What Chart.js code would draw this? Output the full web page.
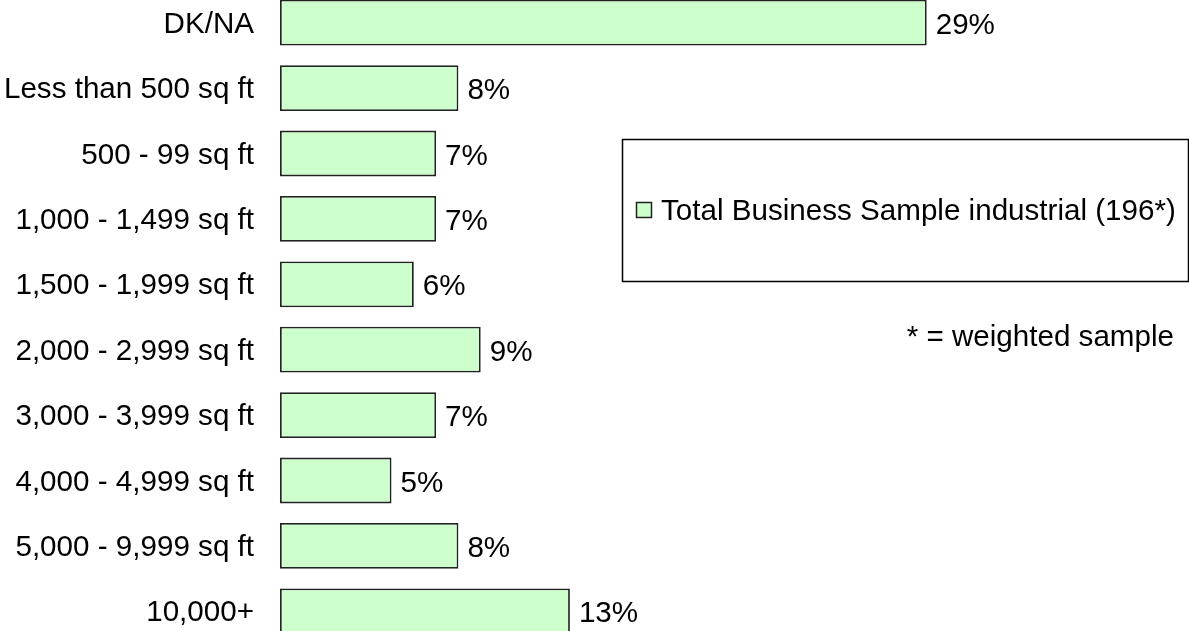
<!DOCTYPE html>
<html>
<head>
<meta charset="utf-8">
<script src="https://cdn.jsdelivr.net/npm/chart.js@4"></script>
<style>
  html, body { margin: 0; padding: 0; background: #fff; overflow: hidden; }
  #wrap { position: absolute; left: 0; top: -10px; width: 1189px; height: 654px; }
</style>
</head>
<body>
<div id="wrap"><canvas id="myChart"></canvas></div>
<script>
const categories = [
  'DK/NA',
  'Less than 500 sq ft',
  '500 - 99 sq ft',
  '1,000 - 1,499 sq ft',
  '1,500 - 1,999 sq ft',
  '2,000 - 2,999 sq ft',
  '3,000 - 3,999 sq ft',
  '4,000 - 4,999 sq ft',
  '5,000 - 9,999 sq ft',
  '10,000+'
];
const shares = [29, 8, 7, 7, 6, 9, 7, 5, 8, 13];
const seriesName = 'Total Business Sample industrial (196*)';
const noteText = '* = weighted sample';

const fontFamily = "'Liberation Sans', Arial, sans-serif";
const fontSize = 29.6;
Chart.defaults.font.family = fontFamily;
Chart.defaults.color = '#000';

// value labels to the right of each bar
const valueLabels = {
  id: 'valueLabels',
  afterDatasetsDraw(chart) {
    const ctx = chart.ctx;
    const meta = chart.getDatasetMeta(0);
    ctx.save();
    ctx.font = fontSize + 'px ' + fontFamily;
    ctx.fillStyle = '#000';
    ctx.textAlign = 'left';
    ctx.textBaseline = 'middle';
    meta.data.forEach((bar, i) => {
      ctx.fillText(shares[i] + '%', bar.x + 9, bar.y + 3);
    });
    ctx.restore();
  }
};

// boxed legend and the footnote (canvas sits 10px above the page top)
const boxLegend = {
  id: 'boxLegend',
  afterDraw(chart) {
    const ctx = chart.ctx;
    const dy = 10;
    ctx.save();
    ctx.strokeStyle = '#000';
    ctx.lineWidth = 1.5;
    ctx.strokeRect(622.5, 139.5 + dy, 566, 142);
    ctx.fillStyle = '#CCFFCC';
    ctx.fillRect(636, 202 + dy, 16, 16);
    ctx.lineWidth = 1.5;
    ctx.strokeStyle = '#222';
    ctx.strokeRect(636.5, 202.5 + dy, 15, 15);
    ctx.font = fontSize + 'px ' + fontFamily;
    ctx.fillStyle = '#000';
    ctx.textBaseline = 'middle';
    ctx.textAlign = 'left';
    ctx.fillText(seriesName, 661, 212 + dy);
    ctx.textAlign = 'right';
    ctx.fillText(noteText, 1174, 338 + dy);
    ctx.restore();
  }
};

const data = {
  labels: categories,
  datasets: [{
    label: seriesName,
    data: shares,
    backgroundColor: '#CCFFCC',
    borderColor: '#222',
    borderWidth: 1.8,
    borderSkipped: false,
    barPercentage: 0.7,
    categoryPercentage: 1
  }]
};

const config = {
  type: 'bar',
  data,
  options: {
    indexAxis: 'y',
    responsive: true,
    maintainAspectRatio: false,
    animation: false,
    layout: { padding: { left: 0, right: 17, top: 0, bottom: 0 } },
    plugins: {
      legend: { display: false },
      tooltip: { enabled: false }
    },
    scales: {
      x: { display: false, min: 0, max: 40 },
      y: {
        grid: { display: false, drawTicks: false },
        border: { display: false },
        ticks: { padding: 26, labelOffset: 2, color: '#000', font: { size: fontSize } },
        afterFit(scale) {
          scale.width = 280;
          scale.paddingTop = 0;
          scale.paddingBottom = 0;
        }
      }
    }
  },
  plugins: [valueLabels, boxLegend]
};

const myChart = new Chart(document.getElementById('myChart'), config);
</script>
</body>
</html>
